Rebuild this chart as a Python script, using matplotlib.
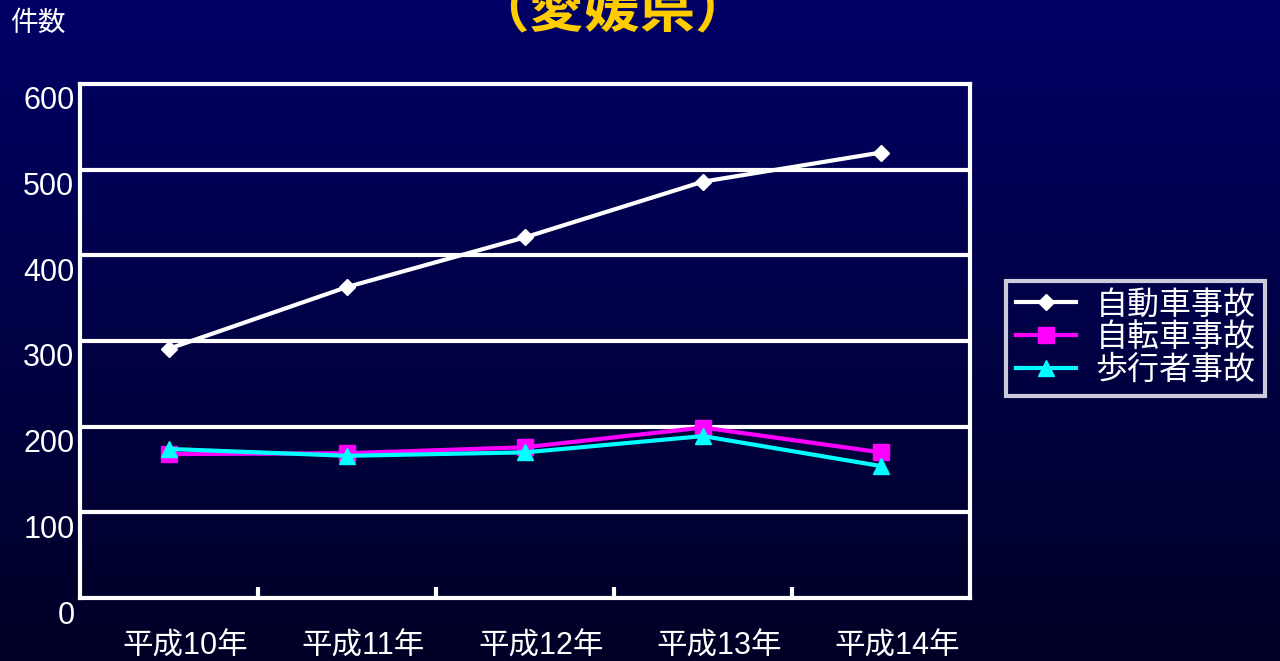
import numpy as np
import matplotlib
matplotlib.use("Agg")
import matplotlib.pyplot as plt
import matplotlib.transforms as mtransforms

plt.rcParams['font.family'] = ['Liberation Sans', 'Noto Sans CJK JP', 'DejaVu Sans']

# ---- data ----
categories = ["平成10年", "平成11年", "平成12年", "平成13年", "平成14年"]
car = [291, 363, 421, 486, 520]        # 自動車事故
bicycle = [168, 169, 176, 199, 170]    # 自転車事故
pedestrian = [174, 166, 170, 189, 154] # 歩行者事故
series_names = ["自動車事故", "自転車事故", "歩行者事故"]
yticks = [0, 100, 200, 300, 400, 500, 600]

W, H = 1280, 661
fig = plt.figure(figsize=(W / 100, H / 100), dpi=100)

# gradient background
bg = fig.add_axes([0, 0, 1, 1], zorder=-10)
grad = np.linspace(0, 1, 256)[:, None]
top = np.array([0, 0, 102]) / 255
bot = np.array([0, 0, 38]) / 255
img = top[None, None, :] * (1 - grad[:, :, None]) + bot[None, None, :] * grad[:, :, None]
bg.imshow(img, aspect='auto', extent=[0, 1, 0, 1])
bg.set_axis_off()

left, right, topy, boty = 80, 970, 84, 598
ax = fig.add_axes([left / W, 1 - boty / H, (right - left) / W, (boty - topy) / H])
ax.set_facecolor('none')
ax.set_xlim(0, 5)
ax.set_ylim(0, 600)

x = np.arange(len(categories)) + 0.5
lw = 3
ax.plot(x, car, color='white', lw=lw, marker='D', ms=8, mec='white', mfc='white', label=series_names[0], zorder=5)
ax.plot(x, bicycle, color='#FF00FF', lw=lw, marker='s', ms=11, mec='#FF00FF', mfc='#FF00FF', label=series_names[1], zorder=4)
ax.plot(x, pedestrian, color='#00FFFF', lw=lw, marker='^', ms=12, mec='#00FFFF', mfc='#00FFFF', label=series_names[2], zorder=6)

for v in yticks[1:-1]:
    ax.axhline(v, color='white', lw=3, zorder=1)

for s in ax.spines.values():
    s.set_color('white')
    s.set_linewidth(3)

ax.set_yticks(yticks)
ax.set_yticklabels([str(v) for v in yticks], color='white', fontsize=22)
ax.tick_params(axis='y', length=0, pad=4)
yoff = mtransforms.ScaledTranslation(0, -14 / 100, fig.dpi_scale_trans)
for lab in ax.get_yticklabels():
    lab.set_transform(lab.get_transform() + yoff)

ax.set_xticks(x)
ax.set_xticklabels(categories, color='white', fontsize=22)
ax.tick_params(axis='x', length=0, pad=24)
xoff = mtransforms.ScaledTranslation(16 / 100, 0, fig.dpi_scale_trans)
for lab in ax.get_xticklabels():
    lab.set_transform(lab.get_transform() + xoff)
ax.set_xticks([1, 2, 3, 4], minor=True)
ax.tick_params(axis='x', which='minor', direction='in', length=8, width=3, color='white')

fig.text(10 / W, 1 - 24 / H, "件数", color='white', fontsize=20, va='center', ha='left')
fig.text(612 / W, 1 - 27 / H, "（愛媛県）", color='#FFCC00', fontsize=40, fontweight='bold',
         va='baseline', ha='center')

leg = ax.legend(loc='upper left', bbox_to_anchor=(1006 / W, 1 - 281 / H), bbox_transform=fig.transFigure,
                fontsize=23, frameon=True, fancybox=False, labelcolor='white',
                handlelength=1.9, handletextpad=0.6, labelspacing=0.08, borderpad=0.3,
                borderaxespad=0)
fr = leg.get_frame()
fr.set_facecolor('none')
fr.set_edgecolor('white')
fr.set_linewidth(3)

fig.savefig("out.png", dpi=100)
